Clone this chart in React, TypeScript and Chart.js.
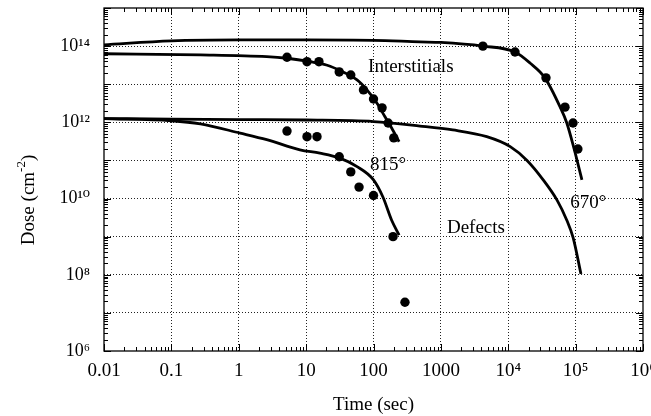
import { useEffect, useRef } from "react";
import { Chart, registerables } from "chart.js";

Chart.register(...registerables);

// Tick positions and labels
const X_TICKS = [0.01, 0.1, 1, 10, 100, 1000, 1e4, 1e5, 1e6];
const X_LABELS = ["0.01", "0.1", "1", "10", "100", "1000", "10⁴", "10⁵", "10⁶"];
const Y_TICKS = [1e6, 1e7, 1e8, 1e9, 1e10, 1e11, 1e12, 1e13, 1e14, 1e15];
const Y_LABELS = ["10⁶", "", "10⁸", "", "10¹⁰", "", "10¹²", "", "10¹⁴", ""];

// 670° interstitials (fit curve + measured points)
const INT670_X = [0.01, 0.1, 1, 10, 100, 490, 1000, 4200, 12600, 21000, 35000, 59000, 74000, 95000, 124000];
const INT670_Y = [1.08e14, 1.37e14, 1.45e14, 1.45e14, 1.42e14, 1.29e14, 1.25e14, 1.0e14, 7e13, 3.6e13, 1.47e13, 2.5e12, 9.6e11, 2e11, 3.1e10];
const INT670_PX = [4200, 12600, 36300, 69500, 91500, 108000];
const INT670_PY = [1e14, 7e13, 1.47e13, 2.5e12, 9.6e11, 2e11];

// 815° interstitials
const INT815_X = [0.01, 0.27, 2.6, 5.2, 11.5, 20, 35.5, 57, 80, 112, 148, 186, 240];
const INT815_Y = [6.3e13, 5.9e13, 5.3e13, 4.8e13, 3.9e13, 3.2e13, 2.1e13, 1.3e13, 7.1e12, 3.2e12, 1.4e12, 7.1e11, 3.1e11];
const INT815_PX = [5.2, 10.3, 15.5, 31, 46, 71, 100, 134, 165, 200];
const INT815_PY = [5.1e13, 3.9e13, 3.9e13, 2.1e13, 1.75e13, 7.1e12, 4.1e12, 2.4e12, 9.6e11, 3.9e11];

// 670° defects
const DEF670_X = [0.01, 0.1, 1, 10, 100, 490, 1500, 4800, 10700, 19000, 33000, 53000, 74000, 92000, 120000];
const DEF670_Y = [1.25e12, 1.22e12, 1.18e12, 1.15e12, 1.05e12, 8e11, 6.3e11, 4.2e11, 2.3e11, 1e11, 3.1e10, 9.1e9, 2.7e9, 9.3e8, 1.05e8];

// 815° defects
const DEF815_X = [0.01, 0.1, 0.27, 1.05, 2.6, 8.1, 16, 31.6, 57, 100, 138, 186, 240];
const DEF815_Y = [1.25e12, 1.1e12, 9.1e11, 5.2e11, 3.5e11, 1.9e11, 1.55e11, 1.15e11, 6.9e10, 3.1e10, 1.1e10, 2.7e9, 1.1e9];
const DEF815_PX = [5.2, 10.3, 14.5, 31, 46, 61, 100, 195, 293];
const DEF815_PY = [5.9e11, 4.2e11, 4.2e11, 1.25e11, 5e10, 2e10, 1.2e10, 1e9, 1.9e7];

// Annotations (data coordinates)
const ANNOT_TEXT = ["Interstitials", "815°", "670°", "Defects"];
const ANNOT_X = [83, 89, 83000, 1230];
const ANNOT_Y = [2.8e13, 7.6e10, 7.6e9, 1.7e9];

const SERIF = '"Liberation Serif", "DejaVu Serif", serif';

const zip = (xs: number[], ys: number[]) => xs.map((x, i) => ({ x, y: ys[i] }));

const curve = (xs: number[], ys: number[]) => ({
  data: zip(xs, ys),
  showLine: true,
  borderColor: "#000",
  borderWidth: 2.8,
  pointRadius: 0,
  tension: 0.4,
  cubicInterpolationMode: "monotone" as const,
  fill: false,
});

const dots = (xs: number[], ys: number[]) => ({
  data: zip(xs, ys),
  showLine: false,
  pointRadius: 4.7,
  pointBackgroundColor: "#000",
  pointBorderWidth: 0,
  borderColor: "#000",
});

const decorPlugin = {
  id: "decor",
  afterDraw(chart: any) {
    const { ctx, chartArea: a, scales } = chart;
    const xs = scales.x;
    const ys = scales.y;
    ctx.save();
    ctx.strokeStyle = "#000";
    ctx.lineWidth = 1;
    ctx.beginPath();
    for (let d = -2; d <= 6; d++) {
      for (let m = 1; m <= 9; m++) {
        const v = m * Math.pow(10, d);
        if (v > 1e6 * 1.0001) break;
        const px = Math.round(xs.getPixelForValue(v)) + 0.5;
        const len = m === 1 ? 7 : 4;
        ctx.moveTo(px, a.bottom);
        ctx.lineTo(px, a.bottom - len);
        ctx.moveTo(px, a.top);
        ctx.lineTo(px, a.top + len);
      }
    }
    for (let d = 6; d <= 15; d++) {
      for (let m = 1; m <= 9; m++) {
        const v = m * Math.pow(10, d);
        if (v > 1e15 * 1.0001) break;
        const py = Math.round(ys.getPixelForValue(v)) + 0.5;
        const len = m === 1 ? 7 : 4;
        ctx.moveTo(a.left, py);
        ctx.lineTo(a.left + len, py);
        ctx.moveTo(a.right, py);
        ctx.lineTo(a.right - len, py);
      }
    }
    ctx.stroke();
    ctx.lineWidth = 1.3;
    ctx.strokeRect(a.left, a.top, a.right - a.left, a.bottom - a.top);

    ctx.fillStyle = "#000";
    ctx.font = `19px ${SERIF}`;
    ctx.textAlign = "left";
    ctx.textBaseline = "middle";
    ANNOT_TEXT.forEach((t, i) => {
      ctx.fillText(t, xs.getPixelForValue(ANNOT_X[i]), ys.getPixelForValue(ANNOT_Y[i]));
    });

    // y axis title with superscript
    ctx.translate(29, 200);
    ctx.rotate(-Math.PI / 2);
    ctx.textBaseline = "middle";
    const main = "Dose (cm";
    ctx.font = `19px ${SERIF}`;
    const w1 = ctx.measureText(main).width;
    ctx.font = `13px ${SERIF}`;
    const w2 = ctx.measureText("-2").width;
    ctx.font = `19px ${SERIF}`;
    const w3 = ctx.measureText(")").width;
    const total = w1 + w2 + w3;
    let x0 = -total / 2;
    ctx.fillText(main, x0, 0);
    x0 += w1;
    ctx.font = `13px ${SERIF}`;
    ctx.fillText("-2", x0, -7);
    x0 += w2;
    ctx.font = `19px ${SERIF}`;
    ctx.fillText(")", x0, 0);
    ctx.restore();
  },
};

export default function App() {
  const ref = useRef<HTMLCanvasElement | null>(null);

  useEffect(() => {
    if (!ref.current) return;
    const gridColor = (ctx: any) => {
      const i = ctx.index;
      const n = ctx.scale.ticks.length;
      return i === 0 || i === n - 1 ? "rgba(0,0,0,0)" : "#222";
    };
    const chart = new Chart(ref.current, {
      type: "scatter",
      data: {
        datasets: [
          curve(INT670_X, INT670_Y),
          curve(INT815_X, INT815_Y),
          curve(DEF670_X, DEF670_Y),
          curve(DEF815_X, DEF815_Y),
          dots(INT670_PX, INT670_PY),
          dots(INT815_PX, INT815_PY),
          dots(DEF815_PX, DEF815_PY),
        ] as any,
      },
      options: {
        animation: false,
        responsive: false,
        maintainAspectRatio: false,
        layout: { padding: { left: 0, right: 8, top: 8, bottom: 0 } },
        plugins: { legend: { display: false }, tooltip: { enabled: false } },
        scales: {
          x: {
            type: "logarithmic",
            min: 0.01,
            max: 1e6,
            afterBuildTicks: (s: any) => {
              s.ticks = X_TICKS.map((v) => ({ value: v }));
            },
            afterFit: (s: any) => {
              s.height = 65;
              s.paddingLeft = 0;
              s.paddingRight = 0;
            },
            ticks: {
              autoSkip: false,
              maxRotation: 0,
              padding: 9,
              color: "#000",
              font: { family: SERIF, size: 19 },
              callback: (_v: any, i: number) => X_LABELS[i],
            },
            grid: { drawTicks: false, color: gridColor, lineWidth: 1 },
            border: { display: false, dash: [1, 2] },
            title: {
              display: true,
              text: "Time (sec)",
              color: "#000",
              font: { family: SERIF, size: 19 },
              padding: { top: 0, bottom: 0 },
            },
          },
          y: {
            type: "logarithmic",
            min: 1e6,
            max: 1e15,
            afterBuildTicks: (s: any) => {
              s.ticks = Y_TICKS.map((v) => ({ value: v }));
            },
            afterFit: (s: any) => {
              s.width = 104;
              s.paddingTop = 0;
              s.paddingBottom = 0;
            },
            ticks: {
              autoSkip: false,
              padding: 14,
              color: "#000",
              font: { family: SERIF, size: 18 },
              callback: (_v: any, i: number) => Y_LABELS[i],
            },
            grid: { drawTicks: false, color: gridColor, lineWidth: 1 },
            border: { display: false, dash: [1, 2] },
          },
        },
      },
      plugins: [decorPlugin],
    } as any);
    return () => chart.destroy();
  }, []);

  return (
    <div style={{ position: "fixed", left: 0, top: 0, width: 651, height: 416, background: "#fff" }}>
      <canvas ref={ref} width={651} height={416} style={{ display: "block", width: 651, height: 416 }} />
    </div>
  );
}
